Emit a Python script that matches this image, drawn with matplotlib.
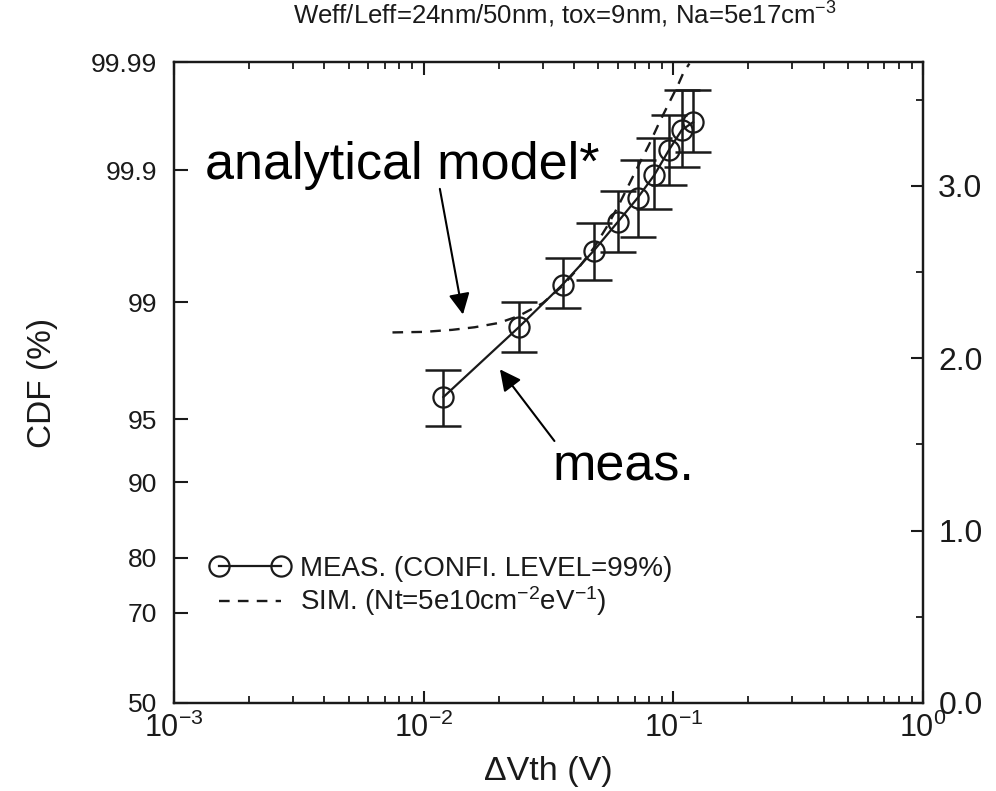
import matplotlib
matplotlib.use("Agg")
import matplotlib.pyplot as plt
from matplotlib.ticker import LogLocator, FixedLocator, NullFormatter
from statistics import NormalDist

plt.rcParams["font.family"] = ["Liberation Sans", "DejaVu Sans"]
plt.rcParams["mathtext.fontset"] = "custom"
plt.rcParams["mathtext.rm"] = "Liberation Sans"
plt.rcParams["mathtext.it"] = "Liberation Sans:italic"
plt.rcParams["mathtext.bf"] = "Liberation Sans:bold"
plt.rcParams["mathtext.default"] = "regular"

# Measured threshold-voltage shifts (V) and their normal quantiles (sigma)
dvth_meas = [0.012, 0.024, 0.036, 0.048, 0.060, 0.072, 0.084, 0.096, 0.108, 0.120]
sigma_meas = [1.775, 2.179, 2.428, 2.624, 2.792, 2.931, 3.064, 3.208, 3.324, 3.370]
sigma_upper = [1.931, 2.324, 2.584, 2.786, 2.971, 3.150, 3.277, 3.410, 3.555, 3.555]
sigma_lower = [1.607, 2.035, 2.289, 2.457, 2.618, 2.705, 2.867, 3.006, 3.110, 3.197]

# Simulated distribution (Nt = 5e10 cm^-2 eV^-1)
dvth_sim = [0.0075, 0.0100, 0.0130, 0.0160, 0.0200, 0.0240, 0.0300, 0.0360,
            0.0420, 0.0480, 0.0540, 0.0600, 0.0660, 0.0720, 0.0800, 0.0880,
            0.0960, 0.1040, 0.1100, 0.1160]
sigma_sim = [2.150, 2.153, 2.165, 2.180, 2.205, 2.245, 2.320, 2.420,
             2.530, 2.640, 2.760, 2.880, 3.000, 3.110, 3.240, 3.370,
             3.480, 3.580, 3.660, 3.710]

# Probability-axis labels (CDF in %) and sigma-axis labels
cdf_ticks = [50, 70, 80, 90, 95, 99, 99.9, 99.99]
cdf_labels = ["50", "70", "80", "90", "95", "99", "99.9", "99.99"]
sigma_ticks = [0.0, 1.0, 2.0, 3.0]
sigma_labels = ["0.0", "1.0", "2.0", "3.0"]
sigma_minor = [0.5, 1.5, 2.5, 3.5]

nd = NormalDist()
def probit(p_percent):
    return nd.inv_cdf(p_percent / 100.0)

ink = "#1a1a1a"
fig = plt.figure(figsize=(9.96, 7.91), dpi=100)
ax = fig.add_axes([0.1747, 0.1113, 0.752, 0.8103])

y_top = probit(99.99)

ax.errorbar(dvth_meas, sigma_meas,
            yerr=[[m - lo for m, lo in zip(sigma_meas, sigma_lower)],
                  [hi - m for m, hi in zip(sigma_meas, sigma_upper)]],
            fmt="none", ecolor=ink, elinewidth=1.8, capsize=12.8, capthick=1.8,
            zorder=2)
ax.plot(dvth_meas, sigma_meas, "-o", color=ink, lw=1.6, ms=14.5,
        mfc="none", mec=ink, mew=1.6, zorder=3,
        label="MEAS. (CONFI. LEVEL=99%)")
ax.plot(dvth_sim, sigma_sim, "--", color=ink, lw=1.7, dashes=(4.5, 3.5),
        zorder=2, label="SIM. (Nt=5e10cm$^{-2}$eV$^{-1}$)")

ax.set_xscale("log")
ax.set_xlim(1e-3, 1e0)
ax.set_ylim(0, y_top)

ax.set_yticks([probit(p) for p in cdf_ticks])
ax.set_yticklabels(cdf_labels)
ax.xaxis.set_major_locator(LogLocator(base=10, numticks=10))
ax.xaxis.set_minor_locator(LogLocator(base=10, subs=range(2, 10), numticks=100))
ax.xaxis.set_minor_formatter(NullFormatter())

ax.tick_params(axis="x", which="major", direction="in", top=True, length=9,
               width=1.5, labelsize=22, pad=7, colors=ink)
ax.tick_params(axis="x", which="minor", direction="in", top=True, length=5,
               width=1.3, colors=ink)
ax.tick_params(axis="y", which="major", direction="in", length=10, width=1.5,
               labelsize=19, pad=12, colors=ink)

ax2 = ax.twinx()
ax2.set_ylim(0, y_top)
ax2.set_yticks(sigma_ticks)
ax2.set_yticklabels(sigma_labels)
ax2.yaxis.set_minor_locator(FixedLocator(sigma_minor))
ax2.tick_params(axis="y", which="major", direction="in", length=9, width=1.5,
                labelsize=23, pad=11, colors=ink)
ax2.tick_params(axis="y", which="minor", direction="in", length=5, width=1.3,
                colors=ink)

for a in (ax, ax2):
    for s in a.spines.values():
        s.set_linewidth(1.6)
        s.set_color(ink)

ax.set_xlabel("ΔVth (V)", fontsize=24.5, labelpad=9, color=ink)
ax.set_ylabel("CDF (%)", fontsize=24, labelpad=24, color=ink)
fig.text(565 / 996, 1 - 15 / 791,
         "Weff/Leff=24nm/50nm, tox=9nm, Na=5e17cm$^{-3}$", fontsize=18.5,
         ha="center", va="center", color=ink)

leg = ax.legend(loc="center left", bbox_to_anchor=(0.049, 0.181), frameon=False,
                fontsize=20, numpoints=2, handlelength=2.83, handletextpad=0.38,
                labelspacing=0.1, borderpad=0, borderaxespad=0)
for t in leg.get_texts():
    t.set_color(ink)

ax.annotate("", xy=(0.01437, 2.254), xytext=(0.01161, 2.983),
            arrowprops=dict(arrowstyle="-|>", color="black", lw=1.5,
                            mutation_scale=32, shrinkA=0, shrinkB=0))
ax.text(0.00133, 3.04, "analytical model*", fontsize=37.5, va="baseline",
        ha="left", color="black")
ax.annotate("", xy=(0.0202, 1.936), xytext=(0.0334, 1.52),
            arrowprops=dict(arrowstyle="-|>", color="black", lw=1.5,
                            mutation_scale=32, shrinkA=0, shrinkB=0))
ax.text(0.0329, 1.289, "meas.", fontsize=37.5, va="baseline", ha="left",
        color="black")

fig.savefig("out.png", dpi=100)
